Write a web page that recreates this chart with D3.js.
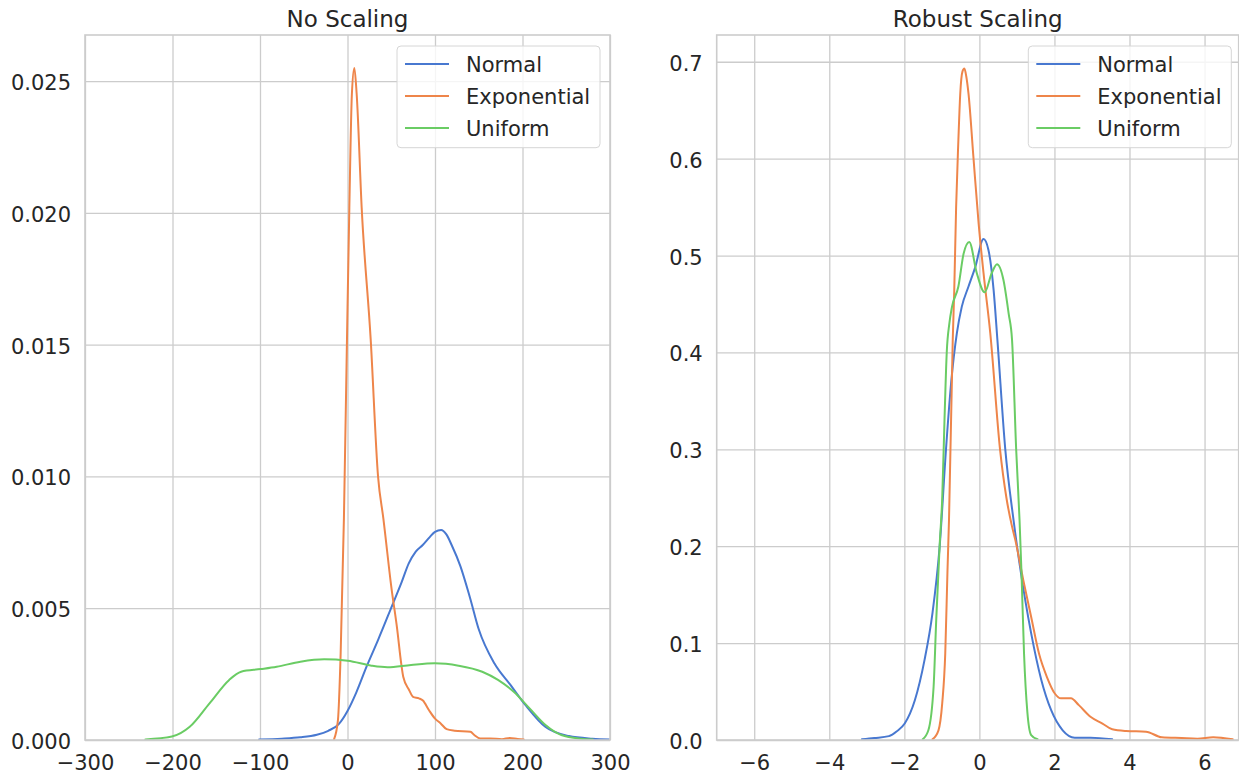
<!DOCTYPE html>
<html>
<head>
<meta charset="utf-8">
<script src="https://cdn.jsdelivr.net/npm/d3@7"></script>
<style>
  html, body { margin: 0; padding: 0; background: #ffffff; }
  svg { display: block; font-family: "DejaVu Sans", sans-serif; }
</style>
</head>
<body>
<svg id="chart" width="1239" height="775"></svg>
<script>
// ---------- data ----------
const seriesNames = ["Normal", "Exponential", "Uniform"];
const seriesColors = ["#4878d0", "#ee854a", "#6acc64"];

const titles = ["No Scaling", "Robust Scaling"];

const leftXTicks = [-300, -200, -100, 0, 100, 200, 300];
const leftYTicks = [0, 0.005, 0.010, 0.015, 0.020, 0.025];
const rightXTicks = [-6, -4, -2, 0, 2, 4, 6];
const rightYTicks = [0, 0.1, 0.2, 0.3, 0.4, 0.5, 0.6, 0.7];

// No Scaling – kernel density curves [x, density]
const leftNormal = [
  [-101, 0.00002], [-75, 0.00005], [-54, 0.0001], [-35, 0.0002], [-22, 0.00035],
  [-10, 0.0006], [0, 0.0011], [10, 0.0018], [22, 0.0028], [35, 0.0038],
  [51, 0.0051], [62, 0.006], [70, 0.0067], [78, 0.00715], [86, 0.0074],
  [94, 0.0077], [100, 0.0079], [107, 0.00797], [113, 0.0078], [119, 0.0074],
  [129, 0.0066], [140, 0.0054], [150, 0.0042], [168, 0.0029], [186, 0.0021],
  [204, 0.0013], [226, 0.0005], [253, 0.00015], [280, 0.00005], [300, 0.00002]
];
const leftExponential = [
  [-15.4, 0.00002], [-10.9, 0.00076], [-7.8, 0.0033], [-4.1, 0.0084], [-0.6, 0.0152],
  [2.1, 0.0202], [5, 0.0245], [7.8, 0.0255], [10.5, 0.0245], [16.2, 0.0202],
  [26.5, 0.0152], [34.9, 0.0100], [41, 0.0084], [50.1, 0.0058], [56.8, 0.0042],
  [61.4, 0.0029], [63.7, 0.0024], [70.4, 0.0019], [74.9, 0.00164], [81.7, 0.00158],
  [86.2, 0.0015], [93, 0.00114], [99.8, 0.00082], [106.5, 0.00063], [113.3, 0.00041],
  [122.3, 0.00035], [140.5, 0.00031], [144.9, 0.00019], [151.7, 0.00006], [163, 0.00006],
  [176.5, 0.00003], [185.5, 0.00008], [194.5, 0.00004], [201.4, 0.00002]
];
const leftUniform = [
  [-231, 0.00002], [-200.7, 0.00013], [-180.3, 0.0005], [-157.7, 0.00139], [-135.2, 0.00228],
  [-121.6, 0.00259], [-99, 0.00269], [-80.9, 0.00278], [-53.8, 0.00297], [-26.7, 0.00306],
  [0.3, 0.00301], [27.4, 0.00282], [45.6, 0.00276], [72.7, 0.00285], [99.8, 0.00291],
  [126.9, 0.00282], [154, 0.00259], [172, 0.00228], [190, 0.00183], [208.1, 0.0012],
  [226.3, 0.00057], [244.4, 0.00019], [266.9, 0.00005], [280.5, 0.00002]
];

// Robust Scaling – kernel density curves [x, density]
const rightNormal = [
  [-3.13, 0.0007], [-2.8, 0.002], [-2.41, 0.004], [-2.2, 0.009], [-1.99, 0.017],
  [-1.72, 0.041], [-1.46, 0.083], [-1.25, 0.131], [-1.06, 0.199], [-0.89, 0.3],
  [-0.75, 0.37], [-0.6, 0.42], [-0.47, 0.447], [-0.29, 0.468], [-0.11, 0.488],
  [0.11, 0.517], [0.24, 0.506], [0.38, 0.464], [0.48, 0.413], [0.69, 0.3],
  [0.91, 0.227], [1.07, 0.182], [1.38, 0.11], [1.65, 0.062], [1.91, 0.031],
  [2.22, 0.01], [2.54, 0.0024], [2.96, 0.0024], [3.54, 0.0007]
];
const rightExponential = [
  [-1.25, 0.0007], [-1.09, 0.01], [-0.99, 0.038], [-0.91, 0.089], [-0.85, 0.175],
  [-0.81, 0.227], [-0.71, 0.413], [-0.67, 0.464], [-0.62, 0.55], [-0.56, 0.619],
  [-0.51, 0.667], [-0.45, 0.69], [-0.40, 0.693], [-0.35, 0.685], [-0.29, 0.667],
  [-0.16, 0.602], [-0.02, 0.533], [0.11, 0.482], [0.29, 0.42], [0.55, 0.3],
  [0.72, 0.25], [0.86, 0.222], [0.96, 0.206], [1.17, 0.165], [1.38, 0.127],
  [1.59, 0.089], [1.8, 0.065], [2.01, 0.048], [2.17, 0.043], [2.44, 0.043],
  [2.65, 0.036], [2.96, 0.024], [3.28, 0.017], [3.54, 0.011], [3.91, 0.0093],
  [4.44, 0.0086], [4.86, 0.0028], [5.39, 0.002], [5.81, 0.0014], [6.23, 0.0028],
  [6.75, 0.0007]
];
const rightUniform = [
  [-1.51, 0.0007], [-1.36, 0.01], [-1.22, 0.055], [-1.15, 0.124], [-1.06, 0.2],
  [-0.99, 0.25], [-0.93, 0.33], [-0.87, 0.4], [-0.8, 0.43], [-0.73, 0.447],
  [-0.56, 0.468], [-0.42, 0.502], [-0.27, 0.514], [-0.07, 0.482], [0.14, 0.462],
  [0.33, 0.482], [0.47, 0.491], [0.64, 0.475], [0.78, 0.44], [0.87, 0.413],
  [0.98, 0.3], [1.07, 0.227], [1.12, 0.175], [1.19, 0.089], [1.28, 0.028],
  [1.38, 0.005], [1.55, 0.0007]
];

// ---------- drawing ----------
const svg = d3.select("#chart");
const TEXT = "#262626";
const GRID = "#cccccc";

const panels = [
  {
    title: titles[0],
    x: d3.scaleLinear().domain([-300, 300]).range([85, 610]),
    y: d3.scaleLinear().domain([0, 0.02675]).range([740, 35]),
    xTicks: leftXTicks, yTicks: leftYTicks, yFmt: d3.format(".3f"),
    series: [leftNormal, leftExponential, leftUniform],
    legendX: 397
  },
  {
    title: titles[1],
    x: d3.scaleLinear().domain([-7, 6.91]).range([716.7, 1238.7]),
    y: d3.scaleLinear().domain([0, 0.7276]).range([740, 35]),
    xTicks: rightXTicks, yTicks: rightYTicks, yFmt: d3.format(".1f"),
    series: [rightNormal, rightExponential, rightUniform],
    legendX: 1028.3
  }
];

const minusFmt = v => (v < 0 ? "\u2212" + Math.abs(v) : String(v));

panels.forEach((p, pi) => {
  const [x0, x1] = p.x.range();
  const [yb, yt] = p.y.range();
  const g = svg.append("g");

  const clipId = "clip" + pi;
  g.append("clipPath").attr("id", clipId)
    .append("rect").attr("x", x0).attr("y", yt).attr("width", x1 - x0).attr("height", yb - yt);

  // grid
  const gridX = d3.axisBottom(p.x).tickValues(p.xTicks).tickSize(-(yb - yt)).tickFormat("");
  g.append("g").attr("transform", `translate(0,${yb})`).call(gridX)
    .call(s => s.select(".domain").remove())
    .call(s => s.selectAll("line").attr("stroke", GRID).attr("stroke-width", 1.3));
  const gridY = d3.axisLeft(p.y).tickValues(p.yTicks).tickSize(-(x1 - x0)).tickFormat("");
  g.append("g").attr("transform", `translate(${x0},0)`).call(gridY)
    .call(s => s.select(".domain").remove())
    .call(s => s.selectAll("line").attr("stroke", GRID).attr("stroke-width", 1.3));

  // tick labels
  const xAx = d3.axisBottom(p.x).tickValues(p.xTicks).tickSize(0).tickPadding(0).tickFormat(minusFmt);
  g.append("g").attr("transform", `translate(0,${yb})`).call(xAx)
    .call(s => s.select(".domain").remove())
    .call(s => s.selectAll("text").attr("dy", null).attr("y", 30)
      .attr("font-size", 21).attr("font-family", "DejaVu Sans").attr("fill", TEXT));
  const yAx = d3.axisLeft(p.y).tickValues(p.yTicks).tickSize(0).tickPadding(0).tickFormat(p.yFmt);
  g.append("g").attr("transform", `translate(${x0},0)`).call(yAx)
    .call(s => s.select(".domain").remove())
    .call(s => s.selectAll("text").attr("dy", null).attr("x", -14).attr("y", 8.5)
      .attr("font-size", 21).attr("font-family", "DejaVu Sans").attr("fill", TEXT));

  // curves
  const line = d3.line().x(d => p.x(d[0])).y(d => p.y(d[1])).curve(d3.curveMonotoneX);
  const lines = g.append("g").attr("clip-path", `url(#${clipId})`);
  p.series.forEach((s, i) => {
    lines.append("path").datum(s).attr("d", line)
      .attr("fill", "none").attr("stroke", seriesColors[i])
      .attr("stroke-width", 2).attr("stroke-linejoin", "round").attr("stroke-linecap", "round");
  });

  // spines
  g.append("rect").attr("x", x0).attr("y", yt).attr("width", x1 - x0).attr("height", yb - yt)
    .attr("fill", "none").attr("stroke", GRID).attr("stroke-width", 1.6);

  // title
  g.append("text").attr("x", (x0 + x1) / 2).attr("y", 27).attr("text-anchor", "middle")
    .attr("font-size", 23).attr("fill", TEXT).text(p.title);

  // legend
  const lg = g.append("g");
  lg.append("rect").attr("x", p.legendX).attr("y", 46).attr("width", 203).attr("height", 101.7)
    .attr("rx", 4).attr("ry", 4).attr("fill", "#ffffff").attr("fill-opacity", 0.8)
    .attr("stroke", "#d6d6d6").attr("stroke-width", 1);
  seriesNames.forEach((name, i) => {
    const ry = 64 + i * 32;
    lg.append("line").attr("x1", p.legendX + 8).attr("x2", p.legendX + 52)
      .attr("y1", ry).attr("y2", ry).attr("stroke", seriesColors[i]).attr("stroke-width", 2);
    lg.append("text").attr("x", p.legendX + 69).attr("y", ry + 7.5)
      .attr("font-size", 21).attr("fill", TEXT).text(name);
  });
});
</script>
</body>
</html>
